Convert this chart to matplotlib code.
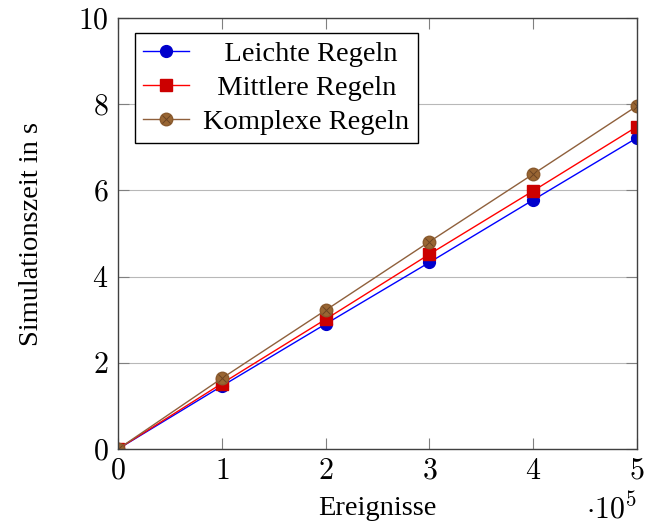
import matplotlib.pyplot as plt
from matplotlib.ticker import FuncFormatter
from matplotlib.legend_handler import HandlerTuple

plt.rcParams['font.family'] = ['Liberation Serif', 'DejaVu Serif']
plt.rcParams['mathtext.fontset'] = 'cm'

# Daten
ereignisse = [0, 100000, 200000, 300000, 400000, 500000]
leicht = [0, 1.46, 2.90, 4.33, 5.78, 7.22]
mittel = [0, 1.52, 3.01, 4.52, 5.99, 7.48]
komplex = [0, 1.64, 3.22, 4.81, 6.38, 7.96]

fig = plt.figure(figsize=(6.45, 5.24), dpi=100)
ax = fig.add_axes([0.183, 0.1431, 0.8046, 0.8225])

l1, = ax.plot(ereignisse, leicht, color='#0000ff', lw=1, marker='o', ms=8.5,
              mfc='#0000cc', mec='#0000cc')
l2, = ax.plot(ereignisse, mittel, color='#ff0000', lw=1, marker='s', ms=8.5,
              mfc='#cc0000', mec='#cc0000')
l3, = ax.plot(ereignisse, komplex, color='#8f603c', lw=1, marker='o', ms=9,
              mfc='#996633', mec='#8a5a2e')
l3x, = ax.plot(ereignisse, komplex, ls='none', marker='x', ms=6, mew=0.7,
               color='#6b4423')

ax.set_xlim(0, 500000)
ax.set_ylim(0, 10)
ax.set_xticks(ereignisse)
ax.set_yticks([0, 2, 4, 6, 8, 10])
ax.xaxis.set_major_formatter(FuncFormatter(lambda v, p: f'${v / 1e5:.0f}$'))
ax.yaxis.set_major_formatter(FuncFormatter(lambda v, p: f'${v:.0f}$'))
ax.tick_params(direction='in', top=True, right=True, length=8, width=0.8,
               color='#808080', labelsize=21.5, pad=7)
ax.yaxis.grid(True, color='#b8b8b8', lw=0.8)
ax.set_axisbelow(True)
for s in ax.spines.values():
    s.set_color('#404040')
    s.set_linewidth(1.0)

ax.set_xlabel('Ereignisse', fontsize=20.5, labelpad=8)
ax.set_ylabel('Simulationszeit in s', fontsize=20.5, labelpad=24)
fig.text(0.988, 0.0, r'$\cdot10^5$', fontsize=21.5, ha='right', va='bottom')

# Legende (Texte mittig ausgerichtet wie bei pgfplots)
leg = ax.legend([l1, l2, (l3, l3x)],
                ['   Leichte Regeln', '  Mittlere Regeln', 'Komplexe Regeln'],
                handler_map={tuple: HandlerTuple(ndivide=1, pad=0)},
                loc='upper left', bbox_to_anchor=(0.032, 0.966), fontsize=20.5,
                fancybox=False, edgecolor='black', framealpha=1,
                handlelength=1.6, borderpad=0.3, labelspacing=0.28,
                handletextpad=0.5, borderaxespad=0)
leg.get_frame().set_linewidth(1.0)

fig.savefig('out.png', dpi=100)
